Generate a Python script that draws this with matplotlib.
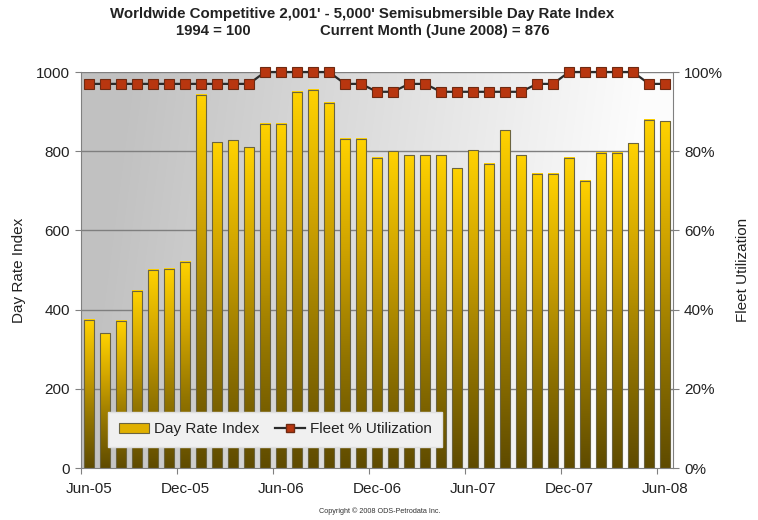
import numpy as np
import matplotlib
matplotlib.use("Agg")
import matplotlib.pyplot as plt
from matplotlib.colors import LinearSegmentedColormap
from matplotlib.patches import Patch
from matplotlib.lines import Line2D
from matplotlib.ticker import FixedLocator

plt.rcParams['font.family'] = ['Liberation Sans', 'DejaVu Sans']

# Monthly series, Jun-05 .. Jun-08
months = ["Jun-05", "Jul-05", "Aug-05", "Sep-05", "Oct-05", "Nov-05", "Dec-05",
          "Jan-06", "Feb-06", "Mar-06", "Apr-06", "May-06", "Jun-06",
          "Jul-06", "Aug-06", "Sep-06", "Oct-06", "Nov-06", "Dec-06",
          "Jan-07", "Feb-07", "Mar-07", "Apr-07", "May-07", "Jun-07",
          "Jul-07", "Aug-07", "Sep-07", "Oct-07", "Nov-07", "Dec-07",
          "Jan-08", "Feb-08", "Mar-08", "Apr-08", "May-08", "Jun-08"]

day_rate_index = [374, 340, 372, 447, 501, 503, 521,
                  942, 822, 828, 810, 869, 869,
                  950, 955, 922, 831, 831, 784,
                  800, 790, 790, 790, 757, 803,
                  768, 853, 790, 743, 743, 784,
                  726, 796, 796, 820, 879, 876]

fleet_utilization = [97, 97, 97, 97, 97, 97, 97,
                     97, 97, 97, 97, 100, 100,
                     100, 100, 100, 97, 97, 95,
                     95, 97, 97, 95, 95, 95,
                     95, 95, 95, 97, 97, 100,
                     100, 100, 100, 100, 97, 97]

labeled_months = ["Jun-05", "Dec-05", "Jun-06", "Dec-06", "Jun-07", "Dec-07", "Jun-08"]

left_ticks = [0, 200, 400, 600, 800, 1000]
right_ticks = [0, 20, 40, 60, 80, 100]

fig = plt.figure(figsize=(7.58, 5.2), dpi=100)
ax = fig.add_axes([81 / 758, 1 - 468 / 520, 592 / 758, 396 / 520])

n = len(months)
x = np.arange(n)
ax.set_xlim(-0.5, n - 0.5)
ax.set_ylim(0, 1000)

# plot-area background: grey on the left fading to near-white on the right
gx = np.linspace(0, 1, 256)
gy = np.linspace(0, 1, 64)
GX, GY = np.meshgrid(gx, gy)
shade = 0.76 + 0.23 * np.clip(GX * 1.15 - GY * 0.1, 0, 1)
bg = np.dstack([shade, shade, shade])
ax.imshow(bg, extent=(-0.5, n - 0.5, 0, 1000), origin="lower",
          aspect="auto", zorder=0, interpolation="bilinear")

# horizontal gridlines
for t in left_ticks[1:]:
    ax.axhline(t, color="#7f7f7f", lw=1.0, zorder=1)

# bars with a vertical gold gradient
bar_cmap = LinearSegmentedColormap.from_list(
    "gold", ["#5f4b00", "#927400", "#cfa300", "#ffd200"])
grad = np.linspace(0, 1, 128).reshape(-1, 1)
w = 0.64
for xi, v in zip(x, day_rate_index):
    ax.imshow(grad, cmap=bar_cmap, extent=(xi - w / 2, xi + w / 2, 0, v),
              origin="lower", aspect="auto", zorder=2, interpolation="bilinear")
ax.bar(x, day_rate_index, width=w, fill=False, edgecolor="#6b6440",
       linewidth=0.8, zorder=3)

# axes styling
for side in ["top", "right"]:
    ax.spines[side].set_visible(False)
for side in ["left", "bottom"]:
    ax.spines[side].set_color("#808080")
ax.set_yticks(left_ticks)
ax.set_yticklabels([str(t) for t in left_ticks])
ax.tick_params(axis="y", direction="out", length=4, color="#808080",
               labelsize=11, labelcolor="#222222", pad=4)

label_pos = [months.index(m) for m in labeled_months]
ax.xaxis.set_major_locator(FixedLocator([p - 0.5 for p in label_pos]))
ax.xaxis.set_major_formatter(plt.NullFormatter())
ax.set_xticks(label_pos, minor=True)
ax.set_xticklabels(labeled_months, minor=True)
ax.tick_params(axis="x", which="major", direction="out", length=4,
               color="#808080")
ax.tick_params(axis="x", which="minor", length=0, labelsize=11,
               labelcolor="#222222", pad=10)
ax.set_ylabel("Day Rate Index", fontsize=11, color="#222222", labelpad=7)

# utilization on the secondary axis
ax2 = ax.twinx()
ax2.set_ylim(0, 100)
ax2.plot(x, fleet_utilization, color="#2a2a2a", lw=1.6, marker="s",
         markersize=6.5, markerfacecolor="#b8360f", markeredgecolor="#6e2a12",
         markeredgewidth=0.8, zorder=5, clip_on=False)
ax2.set_yticks(right_ticks)
ax2.set_yticklabels([f"{t}%" for t in right_ticks])
ax2.tick_params(axis="y", direction="out", length=4, color="#808080",
                labelsize=11, labelcolor="#222222", pad=4)
for side in ["top", "left", "bottom"]:
    ax2.spines[side].set_visible(False)
ax2.spines["right"].set_color("#808080")
ax2.set_ylabel("Fleet Utilization", fontsize=11, color="#222222",
               rotation=90, labelpad=9)

handles = [Patch(facecolor="#e0b000", edgecolor="#6b6440", linewidth=0.8),
           Line2D([0], [0], color="#2a2a2a", lw=1.6, marker="s", markersize=6,
                  markerfacecolor="#b8360f", markeredgecolor="#6e2a12")]
leg = ax2.legend(handles, ["Day Rate Index", "Fleet % Utilization"],
                 loc="lower left", bbox_to_anchor=(0.046, 0.053), ncol=2,
                 frameon=True, fancybox=False, fontsize=11, borderaxespad=0,
                 handlelength=2.0, columnspacing=1.0, borderpad=0.7,
                 handletextpad=0.3)
leg.get_frame().set_facecolor("#f0f0f0")
leg.get_frame().set_edgecolor("#e0e0e0")
leg.get_frame().set_alpha(1.0)
leg.set_zorder(10)
for t in leg.get_texts():
    t.set_color("#222222")

# titles
fig.text(362 / 758, 1 - 14 / 520,
         "Worldwide Competitive 2,001' - 5,000' Semisubmersible Day Rate Index",
         ha="center", va="center", fontsize=10.8, fontweight="bold",
         color="#222222")
fig.text(213 / 758, 1 - 31 / 520, "1994 = 100", ha="center", va="center",
         fontsize=10.7, fontweight="bold", color="#222222")
fig.text(435 / 758, 1 - 31 / 520, "Current Month (June 2008) = 876",
         ha="center", va="center", fontsize=10.7, fontweight="bold",
         color="#222222")
fig.text(380 / 758, 1 - 511 / 520, "Copyright \u00a9 2008 ODS-Petrodata Inc.",
         ha="center", va="center", fontsize=5.2, color="#333333")

fig.savefig("out.png", dpi=100, facecolor="white")
